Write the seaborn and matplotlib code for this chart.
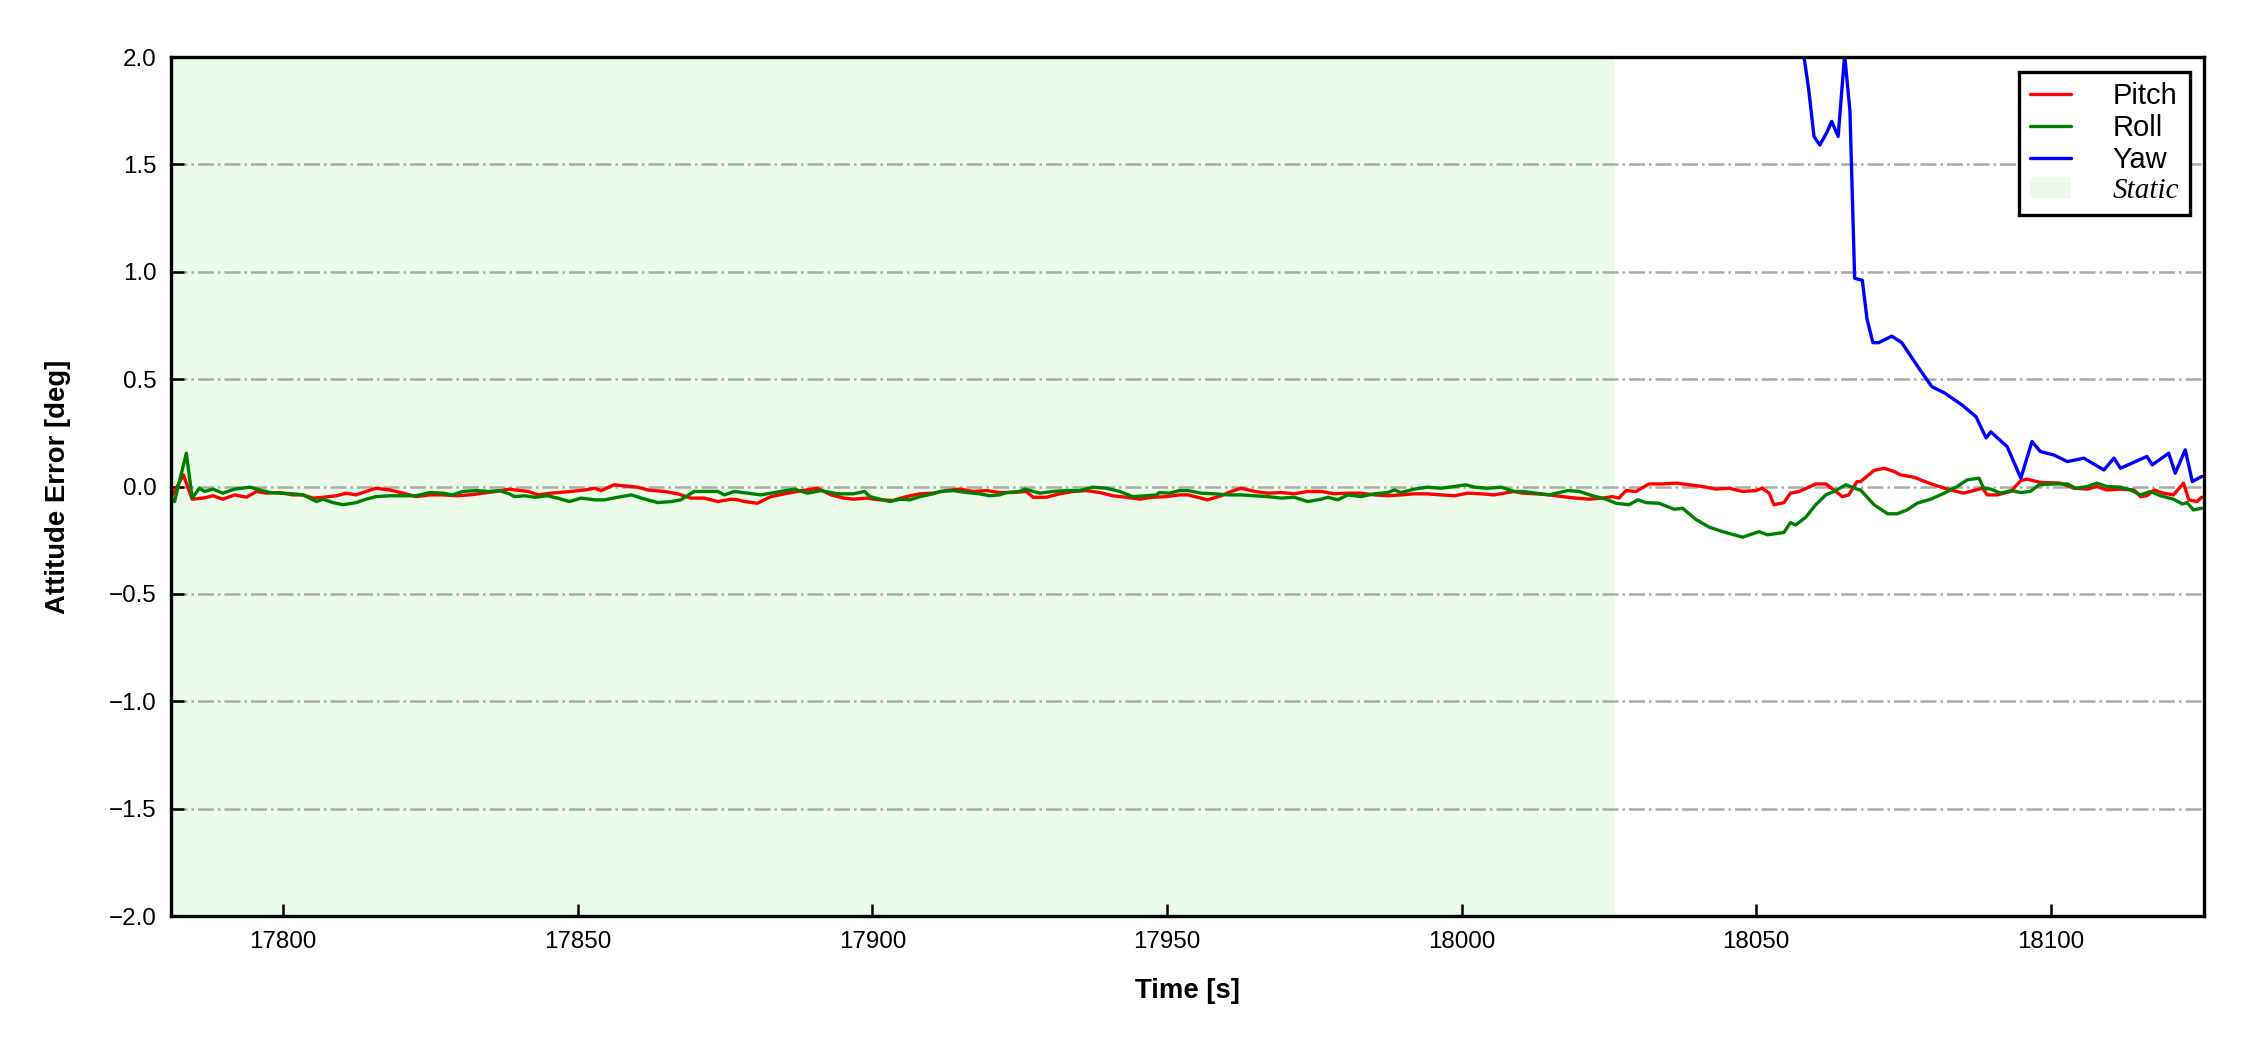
import matplotlib
matplotlib.use('Agg')
import matplotlib.pyplot as plt
import seaborn as sns

# values (time [s], error [deg])
pitch_t = [17781.1, 17783.1, 17784.6, 17786.5, 17788.1, 17789.8, 17791.8, 17793.8, 17795.5, 17797.2,
           17799.4, 17801.7, 17803.4, 17805.1, 17806.8, 17809.1, 17810.7, 17812.4, 17814.1, 17815.8,
           17818.1, 17820.4, 17822.6, 17824.9, 17827.1, 17829.4, 17831.7, 17833.9, 17836.2, 17838.4,
           17839.3, 17841.6, 17843.3, 17845.5, 17848.9, 17851.2, 17852.9, 17854.0, 17856.2, 17857.9,
           17860.2, 17861.9, 17864.7, 17867.0, 17869.2, 17871.5, 17873.8, 17876.0, 17877.2, 17878.3,
           17880.5, 17882.8, 17885.1, 17887.3, 17890.7, 17893.0, 17895.2,
           17896.8, 17899.0, 17901.3, 17903.5, 17905.8, 17908.1, 17910.3, 17912.6, 17914.8, 17917.1,
           17919.4, 17921.6, 17923.9, 17926.1, 17927.3, 17929.5, 17931.8, 17934.1, 17936.3, 17938.6,
           17940.8, 17943.1, 17945.4, 17947.6, 17949.9, 17952.1,
           17953.6, 17956.9, 17959.2, 17960.9, 17962.6, 17964.9, 17967.1, 17969.4, 17971.6, 17973.9,
           17976.2, 17978.4, 17980.7, 17982.9, 17985.2, 17987.5, 17989.7, 17992.0, 17994.2, 17996.5,
           17998.8, 18001.0, 18003.3, 18005.5, 18007.8, 18008.9,
           18010.4, 18012.6, 18014.9, 18017.1, 18019.4, 18021.7, 18023.9, 18025.6, 18026.7, 18027.9,
           18029.6, 18031.8, 18034.1, 18036.4, 18038.6, 18040.9, 18043.1, 18045.4, 18047.7, 18049.9,
           18051.0, 18052.2, 18053.0, 18054.7, 18055.8, 18057.3, 18060.1, 18061.8, 18063.2, 18064.6,
           18065.7, 18067.1,
           18067.7, 18070.0, 18071.7, 18073.4, 18074.5, 18076.8, 18079.0, 18080.7, 18083.0, 18085.2,
           18086.9, 18088.4, 18089.2, 18090.9, 18093.2, 18094.9, 18096.0, 18098.2, 18101.6, 18103.9,
           18106.2, 18107.8, 18109.5, 18111.8, 18114.1, 18115.2, 18116.3, 18117.5, 18119.1, 18120.8,
           18122.5, 18123.4, 18124.8, 18125.6]
pitch_v = [-0.047, 0.054, -0.059, -0.054, -0.043, -0.059, -0.039, -0.050, -0.023, -0.031,
           -0.028, -0.039, -0.039, -0.054, -0.050, -0.043, -0.031, -0.039, -0.023, -0.008,
           -0.016, -0.031, -0.047, -0.039, -0.039, -0.043, -0.039, -0.031, -0.023, -0.012,
           -0.016, -0.023, -0.039, -0.031, -0.023, -0.016, -0.008, -0.019, 0.008, 0.003,
           -0.003, -0.016, -0.023, -0.034, -0.054, -0.054, -0.070, -0.059, -0.062, -0.070,
           -0.078, -0.047, -0.034, -0.023, -0.008, -0.039, -0.054,
           -0.059, -0.054, -0.062, -0.065, -0.047, -0.034, -0.031, -0.019, -0.012, -0.023,
           -0.019, -0.028, -0.028, -0.023, -0.050, -0.050, -0.034, -0.023, -0.019, -0.028,
           -0.043, -0.050, -0.059, -0.050, -0.047, -0.039,
           -0.039, -0.062, -0.043, -0.023, -0.008, -0.023, -0.031, -0.028, -0.034, -0.023,
           -0.023, -0.034, -0.031, -0.031, -0.039, -0.043, -0.039, -0.034, -0.034, -0.039,
           -0.043, -0.031, -0.034, -0.039, -0.028, -0.023,
           -0.031, -0.034, -0.039, -0.047, -0.054, -0.059, -0.054, -0.047, -0.054, -0.019,
           -0.023, 0.012, 0.012, 0.016, 0.008, 0.000, -0.012, -0.008, -0.023, -0.019,
           -0.008, -0.031, -0.085, -0.075, -0.031, -0.023, 0.012, 0.012, -0.016, -0.047,
           -0.039, 0.023,
           0.023, 0.075, 0.085, 0.070, 0.054, 0.043, 0.019, 0.003, -0.016, -0.031,
           -0.019, -0.008, -0.039, -0.039, -0.023, 0.028, 0.034, 0.019, 0.016, -0.008,
           -0.012, 0.000, -0.016, -0.012, -0.016, -0.047, -0.043, -0.016, -0.031, -0.039,
           0.016, -0.062, -0.070, -0.050]

roll_t = [17781.1, 17781.6, 17783.6, 17784.6, 17785.8, 17786.7, 17788.1, 17789.8, 17791.8, 17794.4,
          17796.1, 17797.8, 17799.4, 17801.7, 17803.4, 17805.7, 17806.8, 17808.5, 17810.2, 17812.4,
          17814.1, 17815.8, 17818.1, 17820.4, 17822.6, 17824.9, 17827.1, 17828.8, 17830.5, 17832.8,
          17835.0, 17836.7, 17838.4,
          17839.3, 17841.0, 17842.7, 17844.9, 17846.6, 17848.6, 17850.6, 17852.9, 17854.6, 17856.8,
          17859.1, 17860.8, 17863.6, 17865.9, 17867.5, 17869.8, 17871.5, 17873.8, 17874.9, 17876.6,
          17878.8, 17881.1, 17883.4, 17886.8, 17889.0, 17891.3, 17894.1, 17895.2,
          17896.8, 17898.7, 17899.6, 17901.3, 17903.0, 17904.7, 17906.4, 17908.1, 17910.3, 17911.5,
          17913.7, 17916.0, 17918.2, 17919.9, 17921.6, 17922.8, 17925.0, 17925.9, 17928.4, 17930.7,
          17932.9, 17935.2, 17937.4, 17939.7, 17942.0, 17944.2, 17946.5, 17948.2, 17948.7, 17950.4,
          17952.1,
          17953.6, 17955.8, 17958.1, 17960.3, 17962.6, 17964.9, 17967.1, 17969.4, 17971.6, 17973.9,
          17976.2, 17977.3, 17979.0, 17980.7, 17982.9, 17985.2, 17987.5, 17988.6, 17989.7, 17992.0,
          17994.2, 17996.5, 17998.8, 18000.7, 18002.2, 18004.4, 18006.7, 18008.9,
          18010.4, 18012.6, 18014.9, 18018.0, 18020.0, 18022.2, 18024.5, 18026.2, 18028.4, 18029.9,
          18031.3, 18033.5, 18036.1, 18037.5, 18039.7, 18042.0, 18044.3, 18047.7, 18050.5, 18051.9,
          18054.7, 18055.8, 18056.7, 18058.4, 18060.1, 18061.8, 18063.2, 18065.2, 18067.1,
          18067.7, 18070.0, 18072.3, 18073.9, 18075.6, 18077.3, 18079.6, 18081.9, 18084.1, 18085.8,
          18087.8, 18088.6, 18089.8, 18091.5, 18093.2, 18094.9, 18096.5, 18098.0, 18100.5, 18102.8,
          18104.2, 18106.2, 18107.8, 18109.5, 18111.8, 18113.5, 18115.2, 18116.9, 18118.6, 18120.8,
          18122.3, 18123.1, 18124.2, 18125.6]
roll_v = [-0.054, -0.070, 0.155, -0.054, -0.008, -0.023, -0.012, -0.031, -0.012, -0.003,
          -0.016, -0.028, -0.031, -0.034, -0.039, -0.070, -0.059, -0.075, -0.085, -0.075,
          -0.059, -0.047, -0.043, -0.043, -0.043, -0.028, -0.031, -0.039, -0.023, -0.019,
          -0.023, -0.019, -0.034,
          -0.047, -0.043, -0.050, -0.043, -0.054, -0.070, -0.054, -0.062, -0.062, -0.050,
          -0.039, -0.054, -0.075, -0.070, -0.062, -0.023, -0.023, -0.023, -0.039, -0.023,
          -0.031, -0.039, -0.028, -0.012, -0.031, -0.019, -0.034, -0.034,
          -0.034, -0.023, -0.047, -0.059, -0.070, -0.059, -0.062, -0.047, -0.034, -0.023,
          -0.019, -0.028, -0.034, -0.043, -0.039, -0.028, -0.023, -0.012, -0.031, -0.023,
          -0.019, -0.019, -0.003, -0.008, -0.023, -0.047, -0.043, -0.039, -0.028, -0.031,
          -0.019,
          -0.019, -0.031, -0.034, -0.039, -0.039, -0.043, -0.047, -0.054, -0.050, -0.070,
          -0.059, -0.050, -0.062, -0.039, -0.047, -0.034, -0.028, -0.016, -0.028, -0.012,
          -0.003, -0.008, 0.000, 0.008, -0.003, -0.008, -0.003, -0.023,
          -0.023, -0.031, -0.039, -0.019, -0.023, -0.043, -0.059, -0.078, -0.085, -0.062,
          -0.075, -0.078, -0.106, -0.101, -0.152, -0.189, -0.210, -0.236, -0.210, -0.225,
          -0.214, -0.168, -0.179, -0.143, -0.085, -0.039, -0.023, 0.008, -0.012,
          -0.016, -0.085, -0.127, -0.127, -0.109, -0.078, -0.059, -0.031, 0.000, 0.031,
          0.039, -0.008, -0.012, -0.031, -0.019, -0.028, -0.023, 0.008, 0.012, 0.012,
          -0.008, 0.000, 0.016, 0.000, -0.003, -0.016, -0.039, -0.023, -0.043, -0.059,
          -0.081, -0.075, -0.109, -0.101]

yaw_t = [18056.0, 18058.9, 18059.8, 18060.8, 18062.0, 18062.8, 18063.9, 18065.0, 18065.9, 18066.7,
         18068.0, 18068.8, 18069.8, 18070.8, 18073.0, 18074.7, 18076.4, 18078.0, 18079.8, 18082.0,
         18084.9, 18087.3, 18089.0, 18089.8, 18092.6, 18094.3, 18094.9, 18096.8, 18098.2, 18100.5,
         18102.8, 18105.6, 18109.0, 18110.7, 18111.8, 18116.3, 18117.2, 18120.0, 18121.1, 18122.8,
         18124.0, 18125.6]
yaw_v = [2.40, 1.85, 1.63, 1.59, 1.65, 1.70, 1.63, 2.01, 1.75, 0.97,
         0.96, 0.78, 0.67, 0.67, 0.70, 0.67, 0.60, 0.535, 0.465, 0.435,
         0.38, 0.325, 0.226, 0.255, 0.185, 0.077, 0.039, 0.21, 0.163, 0.147,
         0.116, 0.132, 0.077, 0.132, 0.085, 0.14, 0.101, 0.155, 0.062, 0.171,
         0.023, 0.047]

static_start, static_end = 17781, 18026

sns.set_style('white')
plt.rcParams['font.family'] = ['Liberation Sans', 'DejaVu Sans']
plt.rcParams['font.size'] = 6
for key in ['text.color', 'axes.labelcolor', 'xtick.color', 'ytick.color']:
    plt.rcParams[key] = 'black'

fig = plt.figure(figsize=(7.5, 3.5), dpi=300)
ax = fig.add_axes([0.076, 0.1276, 0.9036, 0.8181])

ax.axvspan(static_start, static_end, color='lightgreen', alpha=0.19, lw=0, zorder=0, label='Static')
sns.lineplot(x=pitch_t, y=pitch_v, color='red', lw=0.8, label='Pitch', ax=ax)
sns.lineplot(x=roll_t, y=roll_v, color='green', lw=0.8, label='Roll', ax=ax)
sns.lineplot(x=yaw_t, y=yaw_v, color='blue', lw=0.8, label='Yaw', ax=ax)

ax.set_xlim(17781, 18126)
ax.set_ylim(-2, 2)
ax.set_yticks([-2, -1.5, -1, -0.5, 0, 0.5, 1, 1.5, 2])
ax.set_yticklabels(['\u22122.0', '\u22121.5', '\u22121.0', '\u22120.5', '0.0', '0.5', '1.0', '1.5', '2.0'])
ax.yaxis.grid(True, linestyle='-.', color='#aaaaaa', lw=0.6)
ax.xaxis.grid(False)
ax.tick_params(direction='in', length=3, width=0.6, labelsize=5.8, left=True, bottom=True)
for s in ax.spines.values():
    s.set_linewidth(0.8)
    s.set_color('black')

ax.set_xlabel('Time [s]', fontsize=6.6, fontweight='bold', labelpad=6)
ax.set_ylabel('Attitude Error [deg]', fontsize=6.6, fontweight='bold', labelpad=9)

handles, labels = ax.get_legend_handles_labels()
order = [labels.index(n) for n in ['Pitch', 'Roll', 'Yaw', 'Static']]
leg = ax.legend([handles[i] for i in order], [labels[i] for i in order],
                loc='upper right', fontsize=7, fancybox=False, framealpha=1,
                edgecolor='black', borderaxespad=0.5, handlelength=1.4, handletextpad=1.45,
                labelspacing=0.14, borderpad=0.35)
leg.get_frame().set_linewidth(0.8)
leg.get_texts()[3].set_fontfamily('Liberation Serif')
leg.get_texts()[3].set_fontstyle('italic')

fig.savefig('out.png', dpi=300)
